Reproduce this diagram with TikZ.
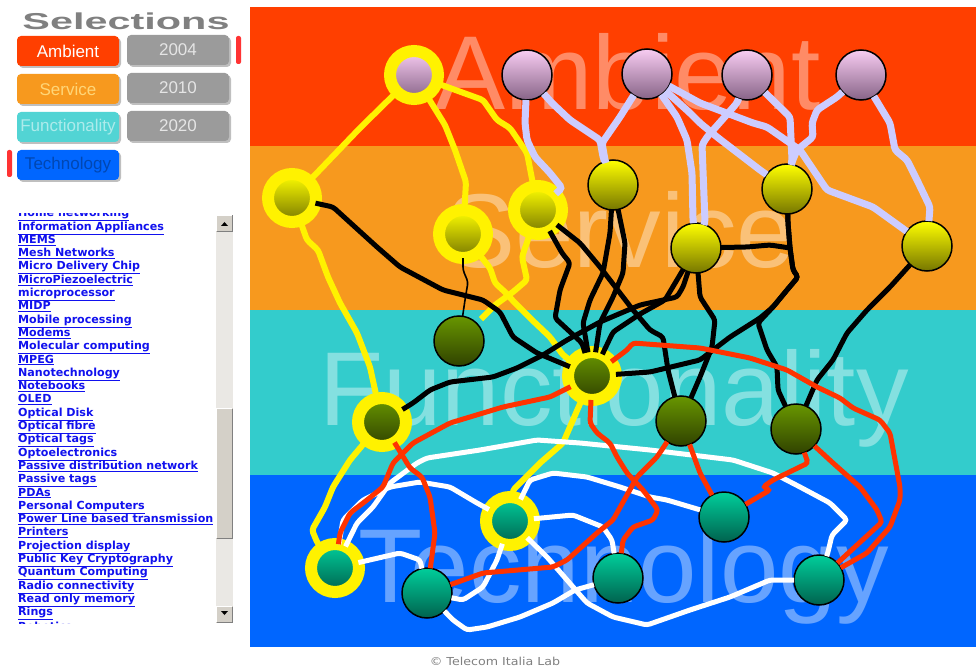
\documentclass[tikz,border=0pt]{standalone}
\usepackage{fontspec}
\setmainfont{Liberation Sans}
\newfontfamily\listfont{DejaVu Sans}
\usetikzlibrary{shadows}

\definecolor{ambband}{RGB}{255,63,0}
\definecolor{srvband}{RGB}{247,153,30}
\definecolor{funband}{RGB}{51,204,204}
\definecolor{tecband}{RGB}{0,102,255}
\definecolor{pinkhi}{RGB}{248,204,242}
\definecolor{pinklo}{RGB}{135,100,135}
\definecolor{yelhi}{RGB}{255,255,0}
\definecolor{yello}{RGB}{118,118,0}
\definecolor{olvhi}{RGB}{104,150,0}
\definecolor{olvlo}{RGB}{48,66,0}
\definecolor{tealhi}{RGB}{0,206,155}
\definecolor{teallo}{RGB}{0,98,78}
\definecolor{lav}{RGB}{204,204,255}
\definecolor{redln}{RGB}{255,51,0}
\definecolor{linkblue}{RGB}{17,17,238}
\definecolor{btngray}{RGB}{155,155,155}
\definecolor{sbface}{RGB}{212,208,200}
\definecolor{sbtrack}{RGB}{234,232,228}
\definecolor{srvtext}{RGB}{255,214,120}

\tikzset{
  bigword/.style={anchor=base west, inner sep=0pt, text=white, text opacity=0.4,
    font=\fontsize{105}{105}\selectfont},
  plain/.style={circle, minimum size=50pt, inner sep=0pt, outer sep=0pt,
    draw=black, line width=1.5pt, shading angle=45},
  ringed/.style={circle, minimum size=48pt, inner sep=0pt, outer sep=0pt,
    draw=yellow, line width=12pt, shading angle=45},
  amb/.style={top color=pinkhi, bottom color=pinklo},
  srv/.style={top color=yelhi, bottom color=yello},
  fun/.style={top color=olvhi, bottom color=olvlo},
  tec/.style={top color=tealhi, bottom color=teallo},
  yl/.style={draw=yellow, line width=6pt, rounded corners=3pt},
  lv/.style={draw=lav, line width=7pt, rounded corners=3pt},
  bk/.style={draw=black, line width=5pt, rounded corners=3pt},
  rd/.style={draw=redln, line width=5pt, rounded corners=3pt},
  wt/.style={draw=white, line width=5pt, rounded corners=3pt},
  btn/.style={rounded corners=4pt, minimum width=102pt, minimum height=30pt,
    inner sep=0pt, font=\fontsize{17}{17}\selectfont,
    drop shadow={shadow xshift=2pt, shadow yshift=-2pt, fill=black, opacity=0.25}},
  link/.style={anchor=base west, inner sep=0pt, text=linkblue,
    font=\listfont\bfseries\fontsize{11.1}{13}\selectfont},
}

\begin{document}
\begin{tikzpicture}[x=1pt,y=-1pt]
\useasboundingbox (0,0) rectangle (976,668);
\fill[white] (0,0) rectangle (976,668);

% left panel
\node[font=\fontsize{23}{23}\selectfont\bfseries, text=gray, xscale=1.8, inner sep=0pt, anchor=base]
  (title) at (126,30) {Selections};

\node[btn, fill=ambband, text=white] (bamb) at (68,51) {Ambient};
\node[btn, fill=btngray, text=white!80!gray] (b04) at (178,50) {2004};
\node[btn, fill=srvband, text=srvtext] (bsrv) at (68,89) {Service};
\node[btn, fill=btngray, text=white!80!gray] (b10) at (178,88) {2010};
\node[btn, fill=funband!85!white, text=white!60!funband] (bfun) at (68,127) {Functionality};
\node[btn, fill=btngray, text=white!80!gray] (b20) at (178,126) {2020};
\node[btn, fill=tecband, text=tecband!70!black] (btec) at (68,165) {Technology};
\fill[red!80!white, rounded corners=2pt] (236,36) rectangle (241,64);
\fill[red!80!white, rounded corners=2pt] (7,150) rectangle (12,177);

% topic list
\begin{scope}
\clip (0,213.5) rectangle (214,623);
\node[link] (top) at (18,216.7) {\underline{Home networking}};
\foreach \t [count=\i from 0] in {Information Appliances, MEMS, Mesh Networks,
  Micro Delivery Chip, MicroPiezoelectric, microprocessor, MIDP, Mobile processing,
  Modems, Molecular computing, MPEG, Nanotechnology, Notebooks, OLED, Optical Disk,
  Optical fibre, Optical tags, Optoelectronics, Passive distribution network,
  Passive tags, PDAs, Personal Computers, Power Line based transmission, Printers,
  Projection display, Public Key Cryptography, Quantum Computing, Radio connectivity,
  Read only memory, Rings}
  \node[link] (item\i) at (18,{230+13.3*\i}) {\underline{\t}};
\node[link] (bottom) at (18,630.5) {\underline{Robotics}};
\end{scope}

% scroll bar
\fill[sbtrack] (216,215) rectangle (233,623);
\fill[sbface] (216,215) rectangle (233,232);
\draw[white] (216.5,231) -- (216.5,215.5) -- (232,215.5);
\draw[gray] (216.5,231.5) -- (232.5,231.5) -- (232.5,215.5);
\fill (221,226) -- (228,226) -- (224.5,222) -- cycle;
\fill[sbface] (216,408) rectangle (233,539);
\draw[white] (216.5,538) -- (216.5,408.5) -- (232,408.5);
\draw[gray] (216.5,538.5) -- (232.5,538.5) -- (232.5,408.5);
\fill[sbface] (216,606) rectangle (233,623);
\draw[white] (216.5,622) -- (216.5,606.5) -- (232,606.5);
\draw[gray] (216.5,622.5) -- (232.5,622.5) -- (232.5,606.5);
\fill (221,611) -- (228,611) -- (224.5,615) -- cycle;

% bands
\fill[ambband] (250,7) rectangle (976,146);
\fill[srvband] (250,146) rectangle (976,310);
\fill[funband] (250,310) rectangle (976,475);
\fill[tecband] (250,475) rectangle (976,647);

\node[bigword] (wamb) at (435,110) {Ambient};
\node[bigword] (wsrv) at (445,267) {Service};
\node[bigword] (wfun) at (319,425) {Functionality};
\node[bigword] (wtec) at (358,602) {Technology};

% ambient
\node[ringed, amb] (A1) at (414,75) {};
\node[plain, amb] (A2) at (527,75) {};
\node[plain, amb] (A3) at (647,74) {};
\node[plain, amb] (A4) at (747,75) {};
\node[plain, amb] (A5) at (861,75) {};
% service
\node[ringed, srv] (S1) at (292,198) {};
\node[ringed, srv] (S2) at (463,234) {};
\node[ringed, srv] (S3) at (538,210) {};
\node[plain, srv] (S4) at (613,185) {};
\node[plain, srv] (S5) at (696,248) {};
\node[plain, srv] (S6) at (787,189) {};
\node[plain, srv] (S7) at (927,246) {};
% functionality
\node[plain, fun] (F1) at (459,341) {};
\node[ringed, fun] (F2) at (382,422) {};
\node[ringed, fun] (F3) at (592,376) {};
\node[plain, fun] (F4) at (681,421) {};
\node[plain, fun] (F5) at (796,429) {};
% technology
\node[ringed, tec] (T1) at (335,568) {};
\node[plain, tec] (T2) at (427,593) {};
\node[ringed, tec] (T3) at (510,521) {};
\node[plain, tec] (T4) at (724,517) {};
\node[plain, tec] (T5) at (618,578) {};
\node[plain, tec] (T6) at (819,580) {};

\coordinate (j1) at (790,248);

% yellow links
\draw[yl] (A1) -- (360,128) -- (313,177) -- (S1);
\draw[yl] (A1) -- (445,125) -- (455,150) -- (466,182) -- (S2);
\draw[yl] (A1) -- (483,100) -- (497,120) -- (510,128) -- (527,153) -- (S3);
\draw[yl] (S1) -- (307,240) -- (318,250) -- (328,277) -- (340,303) -- (357,333) -- (370,367) -- (F2);
\draw[yl] (F2) -- (350,460) -- (333,487) -- (325,507) -- (312,530) -- (317,542) -- (T1);
\draw[yl] (S2) -- (490,268) -- (495,283) -- (505,292) -- (515,303) -- (530,318) -- (550,337) -- (563,355) -- (F3);
\draw[yl, shorten >=6pt] (S3) -- (522,257) -- (527,280) -- (513,292) -- (495,305) -- (F1);
\draw[yl] (F3) -- (563,443) -- (540,463) -- (513,490) -- (T3);

% lavender links
\draw[lv] (A2) -- (525,123) -- (527,140) -- (535,157) -- (550,173) -- (562,188) -- (S3);
\draw[lv] (A2) -- (552,103) -- (570,120) -- (600,140) -- (603,157) -- (S4);
\draw[lv] (A3) -- (620,117) -- (602,143) -- (605,160) -- (S4);
\draw[lv] (A3) -- (677,117) -- (687,140) -- (692,173) -- (693,220) -- (S5);
\draw[lv] (A3) -- (690,113) -- (700,123) -- (717,137) -- (760,170) -- (S6);
\draw[lv] (A3) -- (700,103) -- (753,123) -- (767,127) -- (800,150) -- (827,190) -- (873,207) -- (S7);
\draw[lv] (A4) -- (737,103) -- (707,137) -- (702,145) -- (705,222) -- (S5);
\draw[lv] (A4) -- (790,117) -- (792,160) -- (S6);
\draw[lv] (A5) -- (837,97) -- (817,110) -- (812,123) -- (813,137) -- (797,150) -- (792,162) -- (S6);
\draw[lv] (A5) -- (890,123) -- (895,150) -- (907,160) -- (917,180) -- (930,207) -- (S7);

% white links
\draw[wt] (T1) -- (343,520) -- (363,500) -- (390,487) -- (420,482) -- (450,487) -- (477,503) -- (T3);
\draw[wt] (T1) -- (357,523) -- (373,507) -- (390,483) -- (417,463) -- (427,458) -- (480,450)
  -- (537,440) -- (580,443) -- (650,450) -- (733,460) -- (773,473) -- (800,487) -- (830,503)
  -- (847,520) -- (832,535) -- (828,552) -- (T6);
\draw[wt] (T1) -- (400,553) -- (420,560) -- (T2);
\draw[wt] (T2) -- (463,600) -- (483,587) -- (497,560) -- (T3);
\draw[wt] (T2) -- (453,620) -- (467,630) -- (487,627) -- (520,617) -- (553,603) -- (575,590) -- (T5);
\draw[wt] (T3) -- (573,515) -- (603,527) -- (612,540) -- (T5);
\draw[wt] (T3) -- (547,557) -- (567,580) -- (587,603) -- (613,617) -- (647,625) -- (690,610) -- (730,597) -- (770,580) -- (T6);
\draw[wt] (T3) -- (530,480) -- (553,473) -- (587,477) -- (620,487) -- (650,497) -- (667,500) -- (T4);

% black links
\draw[bk] (S1) -- (333,207) -- (377,247) -- (400,267) -- (443,290) -- (483,300) -- (500,312) -- (513,337) -- (537,353) -- (F3);
\draw[bk, line width=1.6pt] (S2) -- (463,270) -- (468,282) -- (465,300) -- (F1);
\draw[bk] (F2) -- (413,403) -- (430,390) -- (450,382) -- (493,377) -- (517,368) -- (543,355) -- (567,340)
  -- (600,322) -- (640,305) -- (677,297) -- (683,287) -- (S5);
\draw[bk] (S3) -- (562,253) -- (570,263) -- (560,290) -- (555,318) -- (582,343) -- (F3);
\draw[bk] (S3) -- (580,243) -- (600,267) -- (633,310) -- (650,330) -- (663,337) -- (668,370) -- (F4);
\draw[bk] (S4) -- (610,233) -- (603,273) -- (590,300) -- (583,323) -- (F3);
\draw[bk] (S4) -- (625,243) -- (623,273) -- (613,297) -- (600,323) -- (F3);
\draw[bk] (F3) -- (613,332) -- (640,314) -- (665,300) -- (S5);
\draw[bk] (S5) -- (700,297) -- (715,320) -- (712,347) -- (700,377) -- (F4);
\draw[bk] (S5) -- (747,247) -- (770,245) -- (j1);
\draw[bk] (S6) -- (788,223) -- (j1) -- (793,270) -- (798,277) -- (787,290) -- (773,307) -- (760,318)
  -- (730,337) -- (700,360) -- (650,372) -- (F3);
\draw[bk] (S6) -- (788,223) -- (j1) -- (793,270) -- (798,277) -- (787,290) -- (773,307) -- (758,323)
  -- (767,350) -- (777,367) -- (778,390) -- (F5);
\draw[bk] (S7) -- (890,287) -- (867,310) -- (847,333) -- (833,360) -- (817,380) -- (F5);

% red links
\draw[rd] (F2) -- (410,468) -- (422,477) -- (430,497) -- (435,533) -- (T2);
\draw[rd] (T2) -- (483,573) -- (553,567) -- (567,560) -- (597,533) -- (613,520) -- (637,477) -- (657,457) -- (F4);
\draw[rd] (F3) -- (590,423) -- (597,433) -- (610,443) -- (617,457) -- (627,473) -- (643,490) -- (658,510)
  -- (653,520) -- (633,527) -- (623,540) -- (T5);
\draw[rd] (F3) -- (550,397) -- (503,407) -- (450,423) -- (413,443) -- (393,463) -- (383,487) -- (367,500)
  -- (350,513) -- (340,533) -- (T1);
\draw[rd] (F3) -- (627,350) -- (633,343) -- (700,348) -- (750,358) -- (787,370) -- (817,387) -- (840,398)
  -- (853,408) -- (880,420) -- (890,433) -- (900,487) -- (900,500) -- (890,527) -- (867,553) -- (T6);
\draw[rd] (F5) -- (833,463) -- (860,487) -- (877,510) -- (882,522) -- (T6);
\draw[rd] (F5) -- (808,463) -- (773,480) -- (763,487) -- (770,490) -- (T4);
\draw[rd] (F4) -- (700,473) -- (T4);

% credit
\node[font=\listfont\fontsize{11}{11}\selectfont, text=gray, inner sep=0pt, anchor=base, xscale=1.15]
  (credit) at (495,665) {\textcopyright{} Telecom Italia Lab};
\end{tikzpicture}
\end{document}
